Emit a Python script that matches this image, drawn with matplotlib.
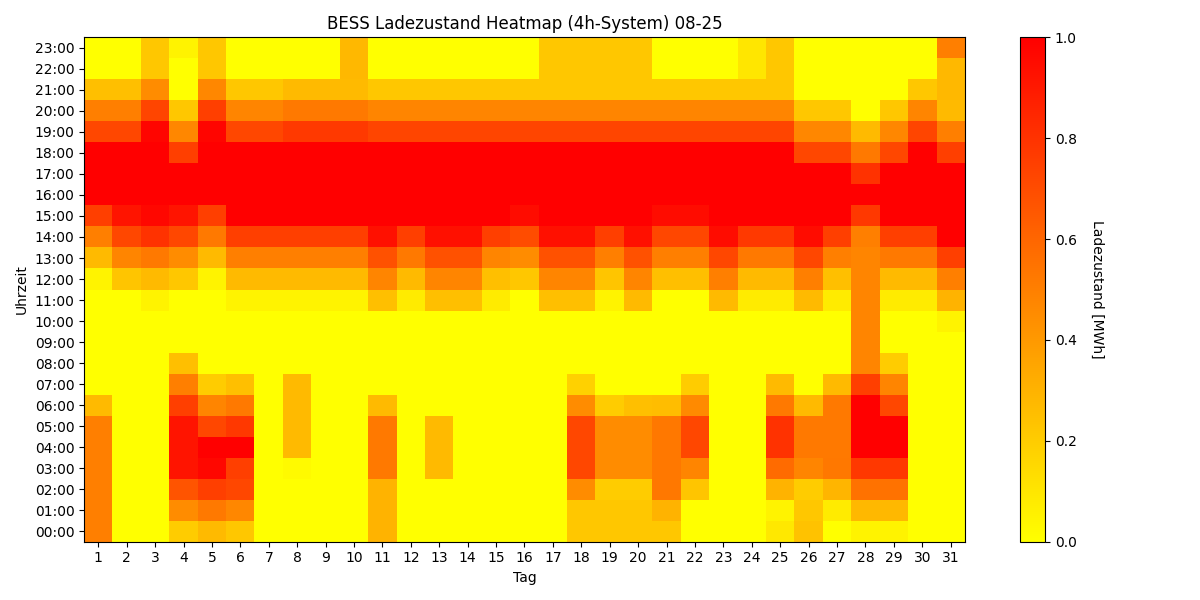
import numpy as np
import matplotlib

matplotlib.use("Agg")
import matplotlib.pyplot as plt

# State of charge per hour (MWh), one entry per day of the month (1..31)
h00 = [.50, 0, 0, .20, .27, .22, 0, 0, 0, 0, .30, 0, 0, 0, 0, 0, 0, .22, .22, .22, .22, 0, 0, 0, .09, .24, 0, .05, .05, 0, 0]
h01 = [.50, 0, 0, .45, .52, .47, 0, 0, 0, 0, .30, 0, 0, 0, 0, 0, 0, .22, .22, .22, .30, 0, 0, 0, .05, .22, .08, .28, .28, 0, 0]
h02 = [.50, 0, 0, .67, .75, .72, 0, 0, 0, 0, .30, 0, 0, 0, 0, 0, 0, .45, .20, .20, .53, .23, 0, 0, .30, .20, .29, .55, .55, 0, 0]
h03 = [.50, 0, 0, .92, .97, .75, 0, .02, 0, 0, .52, 0, .27, 0, 0, 0, 0, .72, .45, .45, .53, .48, 0, 0, .58, .48, .53, .78, .78, 0, 0]
h04 = [.50, 0, 0, .92, 1, 1, 0, .27, 0, 0, .52, 0, .27, 0, 0, 0, 0, .72, .45, .45, .53, .72, 0, 0, .80, .52, .52, 1, 1, 0, 0]
h05 = [.50, 0, 0, .92, .72, .78, 0, .27, 0, 0, .52, 0, .27, 0, 0, 0, 0, .72, .45, .45, .53, .72, 0, 0, .80, .52, .52, 1, 1, 0, 0]
h06 = [.27, 0, 0, .75, .48, .52, 0, .27, 0, 0, .27, 0, 0, 0, 0, 0, 0, .45, .20, .25, .26, .46, 0, 0, .52, .27, .52, 1, .72, 0, 0]
h07 = [0, 0, 0, .50, .20, .25, 0, .27, 0, 0, 0, 0, 0, 0, 0, 0, 0, .18, 0, 0, 0, .20, 0, 0, .27, 0, .27, .75, .48, 0, 0]
h08 = [0, 0, 0, .25, 0, 0, 0, 0, 0, 0, 0, 0, 0, 0, 0, 0, 0, 0, 0, 0, 0, 0, 0, 0, 0, 0, 0, .48, .20, 0, 0]
h09 = [0, 0, 0, 0, 0, 0, 0, 0, 0, 0, 0, 0, 0, 0, 0, 0, 0, 0, 0, 0, 0, 0, 0, 0, 0, 0, 0, .48, 0, 0, 0]
h10 = [0, 0, 0, 0, 0, 0, 0, 0, 0, 0, 0, 0, 0, 0, 0, 0, 0, 0, 0, 0, 0, 0, 0, 0, 0, 0, 0, .48, 0, 0, .05]
h11 = [0, 0, .05, 0, 0, .05, .05, .05, .05, .05, .25, .08, .25, .25, .08, 0, .25, .25, .05, .27, 0, 0, .27, .08, .08, .27, .08, .48, .08, .08, .30]
h12 = [.05, .23, .27, .22, .05, .27, .27, .27, .27, .27, .48, .27, .48, .48, .25, .22, .48, .48, .23, .48, .25, .25, .50, .27, .27, .50, .25, .48, .27, .27, .50]
h13 = [.27, .48, .52, .45, .27, .50, .50, .50, .50, .50, .68, .52, .68, .68, .48, .45, .68, .68, .50, .68, .50, .50, .72, .52, .52, .72, .50, .48, .52, .52, .75]
h14 = [.50, .72, .80, .72, .52, .75, .75, .75, .75, .75, .93, .75, .93, .93, .75, .70, .93, .93, .75, .93, .72, .72, .95, .77, .77, .95, .75, .50, .75, .75, 1]
h15 = [.75, .92, .97, .92, .75, 1, 1, 1, 1, 1, 1, 1, 1, 1, 1, .95, 1, 1, 1, 1, .95, .95, 1, 1, 1, 1, 1, .78, 1, 1, 1]
h16 = [1, 1, 1, 1, 1, 1, 1, 1, 1, 1, 1, 1, 1, 1, 1, 1, 1, 1, 1, 1, 1, 1, 1, 1, 1, 1, 1, 1, 1, 1, 1]
h17 = [1, 1, 1, 1, 1, 1, 1, 1, 1, 1, 1, 1, 1, 1, 1, 1, 1, 1, 1, 1, 1, 1, 1, 1, 1, 1, 1, .80, 1, 1, 1]
h18 = [1, 1, 1, .75, 1, 1, 1, 1, 1, 1, 1, 1, 1, 1, 1, 1, 1, 1, 1, 1, 1, 1, 1, 1, 1, .72, .72, .52, .72, 1, .75]
h19 = [.72, .72, .98, .47, .98, .72, .72, .77, .77, .77, .73, .73, .73, .73, .73, .73, .73, .73, .73, .73, .73, .73, .73, .73, .73, .47, .47, .27, .47, .73, .50]
h20 = [.50, .50, .73, .22, .75, .48, .48, .52, .52, .52, .48, .48, .48, .48, .48, .48, .48, .48, .48, .48, .48, .48, .48, .48, .48, .22, .22, 0, .22, .48, .27]
h21 = [.25, .25, .45, 0, .47, .22, .22, .27, .27, .27, .22, .22, .22, .22, .22, .22, .22, .22, .22, .22, .22, .22, .22, .22, .22, 0, 0, 0, 0, .22, .28]
h22 = [0, 0, .22, 0, .22, 0, 0, 0, 0, .28, 0, 0, 0, 0, 0, 0, .22, .22, .22, .22, 0, 0, 0, .10, .22, 0, 0, 0, 0, 0, .28]
h23 = [0, 0, .22, .05, .22, 0, 0, 0, 0, .28, 0, 0, 0, 0, 0, 0, .22, .22, .22, .22, 0, 0, 0, .10, .22, 0, 0, 0, 0, 0, .50]

days = list(range(1, 32))
hour_labels = [f"{h:02d}:00" for h in range(24)]

soc = np.array([h00, h01, h02, h03, h04, h05, h06, h07, h08, h09, h10, h11,
                h12, h13, h14, h15, h16, h17, h18, h19, h20, h21, h22, h23])

fig, ax = plt.subplots(figsize=(12, 6), dpi=100)
im = ax.imshow(soc, aspect="auto", cmap="autumn_r", origin="lower",
               vmin=0, vmax=1, interpolation="nearest")
cbar = fig.colorbar(im, ax=ax)
cbar.set_label("Ladezustand [MWh]", rotation=270, labelpad=20)

ax.set_xticks(np.arange(len(days)))
ax.set_xticklabels(days)
ax.set_yticks(np.arange(24))
ax.set_yticklabels(hour_labels)
ax.set_xlabel("Tag")
ax.set_ylabel("Uhrzeit")
ax.set_title("BESS Ladezustand Heatmap (4h-System) 08-25")

fig.tight_layout()
fig.savefig("out.png")
plt.close(fig)
